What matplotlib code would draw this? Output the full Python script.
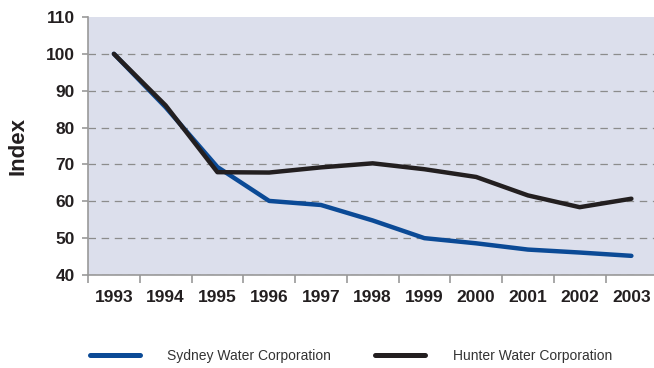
import numpy as np
import matplotlib.pyplot as plt
from matplotlib.lines import Line2D

plt.rcParams['font.family'] = ['Liberation Sans', 'DejaVu Sans']

years = ['1993', '1994', '1995', '1996', '1997', '1998', '1999', '2000', '2001', '2002', '2003']
sydney = [100, 85.5, 69.3, 60.1, 59.0, 54.8, 50.0, 48.6, 46.9, 46.1, 45.2]
hunter = [100, 86.0, 67.9, 67.8, 69.2, 70.3, 68.7, 66.6, 61.6, 58.4, 60.7]

blue = '#0b4a96'
black = '#231f20'
grey = '#999999'

fig = plt.figure(figsize=(6.54, 3.68), dpi=100)
ax = fig.add_axes([0.1346, 0.2527, 0.8704, 0.7011])
ax.set_facecolor('#dcdfec')

x = np.arange(len(years))
ax.plot(x, sydney, color=blue, lw=3.2, solid_capstyle='round', solid_joinstyle='round', zorder=3)
ax.plot(x, hunter, color=black, lw=3.2, solid_capstyle='round', solid_joinstyle='round', zorder=4)

ax.set_xlim(-0.5, len(years) - 0.5)
ax.set_ylim(40, 110)
ax.set_yticks(range(40, 111, 10))
ax.yaxis.grid(True, color='#8c8c8c', ls=(0, (6, 4.5)), lw=0.9)
ax.get_ygridlines()[-1].set_visible(False)
ax.set_axisbelow(True)

# boundary ticks between years, labels centred on each year
ax.set_xticks(np.arange(-0.5, len(years), 1.0))
ax.set_xticklabels([])
ax.set_xticks(x, minor=True)
ax.set_xticklabels(years, minor=True)
ax.tick_params(axis='x', which='minor', length=0, pad=11)
ax.tick_params(axis='x', which='major', length=6, color=grey, width=1.2)
ax.tick_params(axis='y', length=4.5, color=grey, width=1.2, pad=5)
for lab in ax.get_xticklabels(minor=True) + ax.get_yticklabels():
    lab.set_fontweight('bold')
    lab.set_fontsize(12.5)
    lab.set_color('#231f20')

for s in ['top', 'right']:
    ax.spines[s].set_visible(False)
for s in ['left', 'bottom']:
    ax.spines[s].set_color(grey)
    ax.spines[s].set_linewidth(1.2)

ax.set_ylabel('Index', fontsize=16, fontweight='bold', color='#231f20')
ax.yaxis.set_label_coords(-0.104, 0.5)

handles = [Line2D([], [], color=blue, lw=3.6, solid_capstyle='round'),
           Line2D([], [], color=black, lw=3.6, solid_capstyle='round')]
fig.legend(handles, ['Sydney Water Corporation', 'Hunter Water Corporation'],
           loc='center left', bbox_to_anchor=(0.1369, 0.0326), ncol=2, frameon=False,
           borderpad=0, borderaxespad=0, fontsize=10, handlelength=3.6,
           handletextpad=1.98, columnspacing=3.2, labelcolor='#333333')

fig.savefig('out.png', dpi=100)
